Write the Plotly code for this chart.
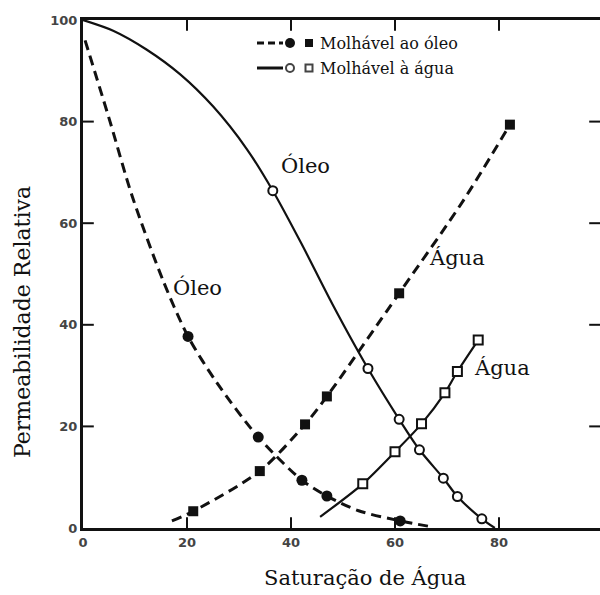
import plotly.graph_objects as go

# ---- data ----
# Oil-wet rock ("Molhável ao óleo"), dashed curves
ow_oil_curve_x = [0.4, 5.2, 9.4, 15.4, 20.2, 25.8, 33.7, 42.1, 46.9, 53.0, 61.0, 66.7]
ow_oil_curve_y = [96.0, 80.0, 65.5, 48.7, 37.7, 28.5, 17.9, 9.4, 6.3, 3.4, 1.4, 0.3]
ow_oil_pts_x = [20.2, 33.7, 42.1, 46.9, 61.0]
ow_oil_pts_y = [37.7, 17.9, 9.4, 6.3, 1.4]

ow_wat_curve_x = [17.1, 21.2, 34.0, 42.7, 46.9, 60.8, 73.1, 82.1]
ow_wat_curve_y = [1.4, 3.3, 11.2, 20.4, 25.9, 46.2, 64.4, 79.4]
ow_wat_pts_x = [21.2, 34.0, 42.7, 46.9, 60.8, 82.1]
ow_wat_pts_y = [3.3, 11.2, 20.4, 25.9, 46.2, 79.4]

# Water-wet rock ("Molhável à água"), solid curves
ww_oil_curve_x = [0.0, 5.8, 12.2, 18.7, 25.0, 31.5, 36.5, 42.0, 48.0, 54.8, 60.8, 64.7, 69.3, 72.0, 76.7, 79.2]
ww_oil_curve_y = [100.0, 97.9, 94.2, 89.3, 83.0, 74.6, 66.4, 56.0, 44.0, 31.4, 21.4, 15.4, 9.8, 6.2, 1.8, 0.0]
ww_oil_pts_x = [36.5, 54.8, 60.8, 64.7, 69.3, 72.0, 76.7]
ww_oil_pts_y = [66.4, 31.4, 21.4, 15.4, 9.8, 6.2, 1.8]

ww_wat_curve_x = [45.6, 53.8, 60.0, 65.1, 69.6, 72.0, 76.0]
ww_wat_curve_y = [2.2, 8.7, 15.0, 20.5, 26.6, 30.8, 37.0]
ww_wat_pts_x = [53.8, 60.0, 65.1, 69.6, 72.0, 76.0]
ww_wat_pts_y = [8.7, 15.0, 20.5, 26.6, 30.8, 37.0]

tick_vals = [0, 20, 40, 60, 80, 100]
tick_text = ["0", "20", "40", "60", "80", "100"]
inner_ticks = [20, 40, 60, 80]

labels_text = ["Óleo", "Óleo", "Água", "Água"]
labels_x = [42.8, 22.1, 72.0, 80.6]
labels_y = [71.3, 47.4, 53.1, 31.5]

legend_names = ["Molhável ao óleo", "Molhável à água"]
x_title = "Saturação de Água"
y_title = "Permeabilidade Relativa"

# ---- layout geometry ----
W, H = 600, 595
ML, MR, MT, MB = 83, 0, 20, 67
PW, PH = W - ML - MR, H - MT - MB
X_MAX = PW / 5.2
Y_MAX = 100
TICK_LEN = 9                       # px, inward tick length
TX = (TICK_LEN / 2) * X_MAX / PW   # half tick length in x data units
TY = (TICK_LEN / 2) * Y_MAX / PH   # half tick length in y data units

SERIF = "DejaVu Serif"
INK = "#111111"

def px(xp):
    return (xp - ML) / PW

def py(yp):
    return (H - MB - yp) / PH

fig = go.Figure()

DASH = "10px,6px"

# curves
fig.add_trace(go.Scatter(x=ow_oil_curve_x, y=ow_oil_curve_y, mode="lines",
                         line=dict(color=INK, width=3, dash=DASH, shape="spline", smoothing=0.8)))
fig.add_trace(go.Scatter(x=ow_wat_curve_x, y=ow_wat_curve_y, mode="lines",
                         line=dict(color=INK, width=3, dash=DASH, shape="spline", smoothing=0.8)))
fig.add_trace(go.Scatter(x=ww_oil_curve_x, y=ww_oil_curve_y, mode="lines",
                         line=dict(color=INK, width=2.2, shape="spline", smoothing=0.8)))
fig.add_trace(go.Scatter(x=ww_wat_curve_x, y=ww_wat_curve_y, mode="lines",
                         line=dict(color=INK, width=2.2, shape="spline", smoothing=0.8)))

# markers
fig.add_trace(go.Scatter(x=ow_oil_pts_x, y=ow_oil_pts_y, mode="markers",
                         marker=dict(symbol="circle", size=11, color=INK, line=dict(width=0))))
fig.add_trace(go.Scatter(x=ow_wat_pts_x, y=ow_wat_pts_y, mode="markers",
                         marker=dict(symbol="square", size=10, color=INK, line=dict(width=0))))
fig.add_trace(go.Scatter(x=ww_oil_pts_x, y=ww_oil_pts_y, mode="markers",
                         marker=dict(symbol="circle", size=9, color="white", line=dict(width=2, color=INK))))
fig.add_trace(go.Scatter(x=ww_wat_pts_x, y=ww_wat_pts_y, mode="markers",
                         marker=dict(symbol="square", size=9, color="white", line=dict(width=2, color=INK))))

# inward tick marks on the four sides, placed through the axis scales
n = len(inner_ticks)
tick_marker_v = dict(symbol="line-ns", size=TICK_LEN, line=dict(width=2, color=INK))
tick_marker_h = dict(symbol="line-ew", size=TICK_LEN, line=dict(width=2, color=INK))
fig.add_trace(go.Scatter(x=inner_ticks, y=[TY] * n, mode="markers", marker=tick_marker_v,
                         hoverinfo="skip", cliponaxis=False))
fig.add_trace(go.Scatter(x=inner_ticks, y=[Y_MAX - TY] * n, mode="markers", marker=tick_marker_v,
                         hoverinfo="skip", cliponaxis=False))
fig.add_trace(go.Scatter(x=[TX] * n, y=inner_ticks, mode="markers", marker=tick_marker_h,
                         hoverinfo="skip", cliponaxis=False))
fig.add_trace(go.Scatter(x=[X_MAX - TX] * n, y=inner_ticks, mode="markers", marker=tick_marker_h,
                         hoverinfo="skip", cliponaxis=False))

# curve labels
for t, lx, ly in zip(labels_text, labels_x, labels_y):
    fig.add_annotation(x=lx, y=ly, text=t, showarrow=False,
                       font=dict(family=SERIF, size=21, color=INK),
                       xanchor="center", yanchor="middle")

# axis titles
fig.add_annotation(xref="paper", yref="paper", x=px(364.5), y=0, yshift=-(578 - (H - MB)),
                   text=x_title, showarrow=False, xanchor="center", yanchor="middle",
                   font=dict(family=SERIF, size=21, color=INK))
fig.add_annotation(xref="paper", yref="paper", x=0, xshift=-(ML - 22), y=py(322),
                   text=y_title, showarrow=False, textangle=-90, xanchor="center", yanchor="middle",
                   font=dict(family=SERIF, size=22, color=INK))

# legend (drawn manually)
rows = [43, 68]
for i, (name, yr) in enumerate(zip(legend_names, rows)):
    fig.add_shape(type="line", xref="paper", yref="paper",
                  x0=px(257), x1=px(283), y0=py(yr), y1=py(yr),
                  line=dict(color=INK, width=3, dash="7px,4px" if i == 0 else "solid"))
    if i == 0:
        fig.add_shape(type="circle", xref="paper", yref="paper",
                      x0=px(285), x1=px(295), y0=py(yr + 5), y1=py(yr - 5),
                      fillcolor=INK, line=dict(width=0))
        fig.add_shape(type="rect", xref="paper", yref="paper",
                      x0=px(305), x1=px(313), y0=py(yr + 4), y1=py(yr - 4),
                      fillcolor=INK, line=dict(width=0))
    else:
        fig.add_shape(type="circle", xref="paper", yref="paper",
                      x0=px(286), x1=px(294), y0=py(yr + 4), y1=py(yr - 4),
                      fillcolor="white", line=dict(width=2, color="#444"))
        fig.add_shape(type="rect", xref="paper", yref="paper",
                      x0=px(305.5), x1=px(312.5), y0=py(yr + 3.5), y1=py(yr - 3.5),
                      fillcolor="white", line=dict(width=2, color="#444"))
    fig.add_annotation(xref="paper", yref="paper", x=px(318), y=py(yr), text=name,
                       showarrow=False, xanchor="left", yanchor="middle",
                       font=dict(family=SERIF, size=16, color=INK))

tickfont = dict(family="DejaVu Sans", size=13, color="#444444", weight="bold")

fig.update_layout(
    width=W, height=H,
    margin=dict(l=ML, r=MR, t=MT, b=MB, pad=0),
    paper_bgcolor="white", plot_bgcolor="white",
    showlegend=False,
    xaxis=dict(range=[0, X_MAX], tickmode="array", tickvals=tick_vals, ticktext=tick_text,
               showgrid=False, zeroline=False, showline=True, linewidth=3, linecolor=INK,
               mirror=True, ticks="", tickfont=tickfont),
    yaxis=dict(range=[0, Y_MAX], tickmode="array", tickvals=tick_vals, ticktext=tick_text,
               showgrid=False, zeroline=False, showline=True, linewidth=3, linecolor=INK,
               ticks="", tickfont=tickfont),
)

fig.write_html("out.html")
